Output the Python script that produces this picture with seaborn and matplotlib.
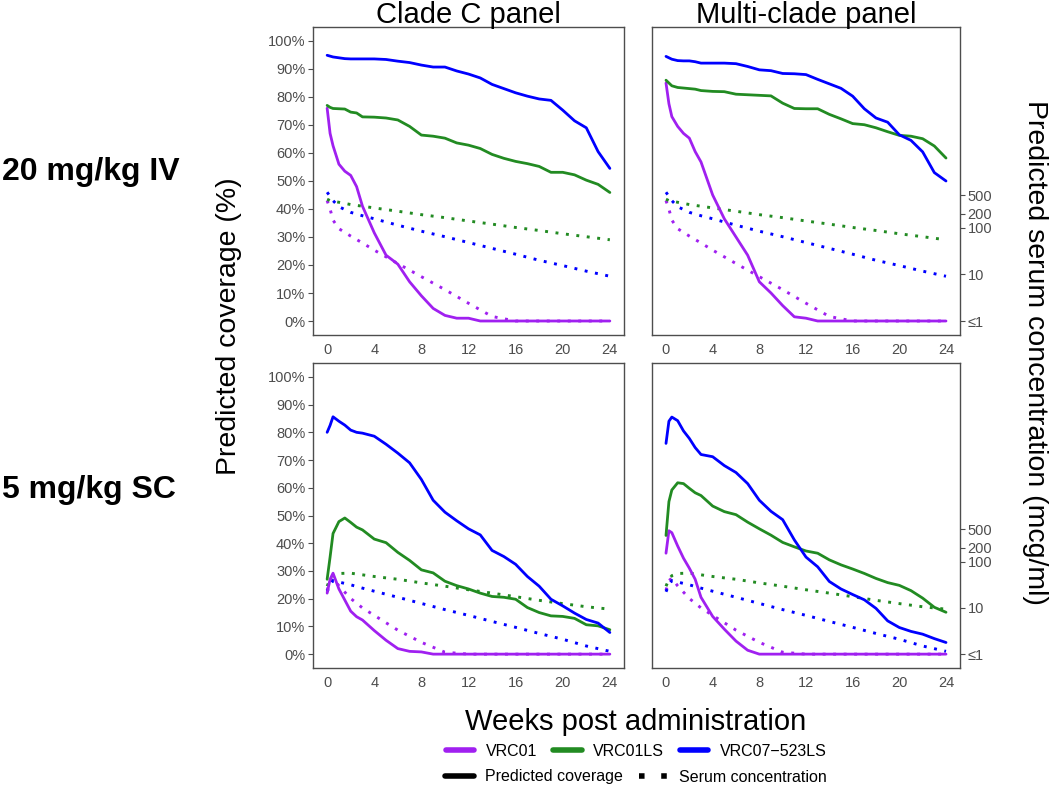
import numpy as np
import pandas as pd
import matplotlib
matplotlib.use("Agg")
import matplotlib.pyplot as plt
from matplotlib.lines import Line2D
from matplotlib.ticker import NullLocator
import seaborn as sns

# ------------------------
# data
# ------------------------
antibodies = ["VRC01", "VRC01LS", "VRC07\u2212523LS"]
colors = ["#A020F0", "#228B22", "#0000FF"]
panels = ["Clade C panel", "Multi-clade panel"]
doses = ["20 mg/kg IV", "5 mg/kg SC"]

# predicted coverage (%), solid lines
weeks_cov = [0, 0.25, 0.5, 1, 1.5, 2, 2.5, 3, 4, 5, 6, 7, 8, 9, 10, 11, 12,
             13, 14, 15, 16, 17, 18, 19, 20, 21, 22, 23, 24]

cladec_iv_vrc01 = [76, 67, 62.6, 56, 53.5, 52, 48, 41, 31.5, 23.5, 20.3, 14, 9, 4.5, 2,
                   1, 1, 0, 0, 0, 0, 0, 0, 0, 0, 0, 0, 0, 0]
cladec_iv_vrc01ls = [77, 76.3, 75.9, 75.8, 75.7, 74.6, 74.3, 72.9, 72.8, 72.5, 71.8, 69.5,
                     66.4, 66, 65.3, 63.6, 62.8, 61.6, 59.5, 58.1, 57, 56.2, 55.2, 53.1,
                     53.1, 52.2, 50.3, 48.8, 45.9]
cladec_iv_vrc07 = [94.9, 94.6, 94.3, 94, 93.7, 93.6, 93.6, 93.6, 93.6, 93.4, 92.8, 92.3,
                   91.4, 90.7, 90.7, 89.3, 88.2, 86.8, 84.5, 83, 81.5, 80.3, 79.3, 78.8,
                   75.3, 71.5, 69, 60.5, 54.5]

multi_iv_vrc01 = [85, 77.6, 73, 69.5, 67, 65.3, 60.5, 56.8, 45, 36.5, 30, 23.5, 14, 10,
                  5.5, 1.5, 1, 0, 0, 0, 0, 0, 0, 0, 0, 0, 0, 0, 0]
multi_iv_vrc01ls = [86, 85, 84, 83.4, 83.2, 83, 82.8, 82.3, 82, 81.9, 81, 80.8, 80.6,
                    80.4, 77.8, 75.9, 75.8, 75.8, 73.8, 72.2, 70.5, 70.1, 69, 67.6, 66.3,
                    66, 65.1, 62.5, 58.2]
multi_iv_vrc07 = [94.5, 94, 93.5, 93, 92.9, 92.9, 92.6, 92.1, 92.1, 92.1, 91.9, 90.9,
                  89.7, 89.4, 88.4, 88.3, 88, 86.3, 84.7, 83.1, 80.3, 75.8, 72.5, 71,
                  66.5, 64.5, 60.4, 53, 50]

cladec_sc_vrc01 = [22, 27, 29.2, 23.5, 19.5, 15.5, 13.5, 12.3, 8.5, 5, 2, 1, 0.8, 0, 0,
                   0, 0, 0, 0, 0, 0, 0, 0, 0, 0, 0, 0, 0, 0]
cladec_sc_vrc01ls = [27, 35, 43.5, 47.8, 49.1, 47.5, 45.8, 44.8, 41.5, 40.2, 36.7, 33.8,
                     30.4, 29.3, 26.3, 24.7, 23.5, 22, 20.8, 20.5, 19.8, 16.8, 15, 13.8,
                     13.6, 12.9, 10.6, 10.2, 8.8]
cladec_sc_vrc07 = [80, 82.5, 85.6, 84, 82.6, 80.8, 80, 79.7, 78.6, 75.7, 72.5, 69, 63,
                   55.5, 51.2, 48.1, 45.2, 43, 37.4, 35.2, 32.4, 28, 24.5, 19.8, 17.4,
                   14.8, 12.5, 11.2, 7.8]

multi_sc_vrc01 = [36.4, 44.5, 43.8, 39, 34.6, 31, 27, 20.5, 13.6, 9, 4.7, 1.4, 0, 0, 0,
                  0, 0, 0, 0, 0, 0, 0, 0, 0, 0, 0, 0, 0, 0]
multi_sc_vrc01ls = [42.8, 55, 59.2, 61.8, 61.5, 59.8, 58.2, 57.2, 53.4, 51.4, 50.3, 47.6,
                    45.2, 42.9, 40.3, 38.7, 37.2, 36.4, 34, 32.2, 30.7, 29.1, 27.3, 25.8,
                    24.8, 22.9, 20.2, 16.9, 15.1]
multi_sc_vrc07 = [76, 84, 85.5, 84.2, 80.5, 77.8, 74.5, 72, 71.2, 68, 65.5, 61.5, 55.5,
                  51.5, 48.5, 41.2, 35, 31.5, 26.2, 23.5, 21.5, 19.6, 16.5, 12, 9.6, 8.2,
                  7.2, 5.6, 4.2]

# predicted serum concentration (mcg/ml), dotted lines; values <= 1 shown as 1
weeks_conc = [0, 0.25, 0.5, 1, 2, 3, 4, 6, 8, 10, 12, 14, 16, 18, 20, 22, 24]

conc_iv_vrc01 = [380, 251, 145, 95, 66, 47, 33, 17, 8.9, 4.7, 2.4, 1.25, 1, 1, 1, 1, 1]
conc_iv_vrc01ls = [407, 380, 370, 350, 313, 288, 265, 225, 190, 164, 139, 119, 101, 87,
                   74, 64, 55]
conc_iv_vrc07 = [575, 468, 380, 281, 213, 180, 155, 113, 84, 64, 48, 36, 27, 20, 15.4,
                 11.7, 9.1]

conc_sc_vrc01 = [24, 39, 44, 30, 16, 10, 6.9, 3.3, 1.8, 1.1, 1, 1, 1, 1, 1, 1, 1]
conc_sc_vrc01ls = [29.5, 41.7, 49.9, 55.7, 56.5, 52, 47.9, 41.7, 34.8, 29.5, 24.7, 20.9,
                   17.5, 14.6, 12.4, 10.6, 9.4]
conc_sc_vrc07 = [22.4, 31.6, 38.9, 36.3, 31.6, 26.8, 23, 17, 12.5, 9.2, 6.9, 5.1, 3.8,
                 2.8, 2.1, 1.5, 1.15]

coverage = {
    (0, 0): [cladec_iv_vrc01, cladec_iv_vrc01ls, cladec_iv_vrc07],
    (0, 1): [multi_iv_vrc01, multi_iv_vrc01ls, multi_iv_vrc07],
    (1, 0): [cladec_sc_vrc01, cladec_sc_vrc01ls, cladec_sc_vrc07],
    (1, 1): [multi_sc_vrc01, multi_sc_vrc01ls, multi_sc_vrc07],
}
concentration = {
    0: [conc_iv_vrc01, conc_iv_vrc01ls, conc_iv_vrc07],
    1: [conc_sc_vrc01, conc_sc_vrc01ls, conc_sc_vrc07],
}


def long_df(weeks, series, name):
    rows = []
    for ab, vals in zip(antibodies, series):
        for w, v in zip(weeks, vals):
            rows.append({"week": w, name: v, "antibody": ab})
    return pd.DataFrame(rows)


# ------------------------
# figure
# ------------------------
sns.set_style("white")
plt.rcParams["font.family"] = ["Liberation Sans", "DejaVu Sans"]
plt.rcParams["text.color"] = "black"

W, H = 1050, 787
fig = plt.figure(figsize=(W / 100, H / 100), dpi=100)

pal = dict(zip(antibodies, colors))
dotted = (0, (1, 2.6))
frame_col = "#4D4D4D"
tick_col = "#4D4D4D"

# pixel boxes: (left, right, top, bottom)
col_x = [(313, 624), (652, 960)]
row_y = [(27, 335), (363, 668)]

for r in range(2):
    for c in range(2):
        x0, x1 = col_x[c]
        y0, y1 = row_y[r]
        ax = fig.add_axes([x0 / W, 1 - y1 / H, (x1 - x0) / W, (y1 - y0) / H])
        ax2 = ax.twinx()

        # serum concentration on the log-scaled secondary axis
        ax2.set_yscale("log")
        sns.lineplot(data=long_df(weeks_conc, concentration[r], "conc"), x="week", y="conc",
                     hue="antibody", palette=pal, hue_order=antibodies, ax=ax2,
                     legend=False, errorbar=None, linewidth=2.1, linestyle=dotted)
        ax2.set_ylim(10 ** -0.3, 10 ** 6.3)

        sns.lineplot(data=long_df(weeks_cov, coverage[(r, c)], "cov"), x="week", y="cov",
                     hue="antibody", palette=pal, hue_order=antibodies, ax=ax,
                     legend=False, errorbar=None, linewidth=2.0)

        ax.set_zorder(ax2.get_zorder() + 1)
        ax.patch.set_visible(False)

        ax.set_xlim(-1.2, 25.2)
        ax.set_ylim(-5, 105)
        ax.set_xticks(range(0, 25, 4))
        ax.set_yticks(range(0, 101, 10))
        ax.set_yticklabels([f"{v}%" for v in range(0, 101, 10)])
        ax.set_xlabel("")
        ax.set_ylabel("")
        ax2.set_ylabel("")

        for sp in ax.spines.values():
            sp.set_color(frame_col)
            sp.set_linewidth(1.0)
        for sp in ax2.spines.values():
            sp.set_visible(False)

        ax.tick_params(axis="both", direction="out", length=3.5, width=0.8,
                       color=frame_col, labelcolor=tick_col, labelsize=10.5, pad=2)
        ax2.yaxis.set_minor_locator(NullLocator())
        if c == 0:
            ax2.set_yticks([])
        else:
            ax.tick_params(axis="y", left=False, labelleft=False)
            ax2.set_yticks([1, 10, 100, 200, 500])
            ax2.set_yticklabels(["\u22641", "10", "100", "200", "500"])
            ax2.tick_params(axis="y", direction="out", length=3.5, width=0.8,
                            color=frame_col, labelcolor=tick_col, labelsize=10.5, pad=2)

# column titles
for c, title in enumerate(panels):
    xc = (col_x[c][0] + col_x[c][1]) / 2 / W
    fig.text(xc, 1 - 23 / H, title, ha="center", va="baseline", fontsize=21, color="black")

# row labels
fig.text(2 / W, 1 - 180 / H, doses[0], ha="left", va="baseline", fontsize=23,
         fontweight="bold", color="black")
fig.text(2 / W, 1 - 498 / H, doses[1], ha="left", va="baseline", fontsize=23,
         fontweight="bold", color="black")

# axis titles
fig.text(229 / W, 1 - 326 / H, "Predicted coverage (%)", rotation=90, ha="center",
         va="center", fontsize=20.5, color="black")
fig.text(1035 / W, 1 - 352 / H, "Predicted serum concentration (mcg/ml)", rotation=270,
         ha="center", va="center", fontsize=20.5, color="black")
fig.text(636 / W, 1 - 722 / H, "Weeks post administration", ha="center", va="center",
         fontsize=21, color="black")

# legends
ab_handles = [Line2D([], [], color=col, lw=4) for col in colors]
fig.legend(ab_handles, antibodies, loc="center", bbox_to_anchor=(636 / W, 1 - 751 / H),
           ncol=3, frameon=False, fontsize=11.5, handlelength=1.8, handletextpad=0.7,
           columnspacing=1.0, borderpad=0, borderaxespad=0, labelcolor="black")
type_handles = [Line2D([], [], color="black", lw=4),
                Line2D([], [], color="black", lw=4, linestyle=(0, (1, 3)))]
fig.legend(type_handles, ["Predicted coverage", "Serum concentration"], loc="center",
           bbox_to_anchor=(636 / W, 1 - 777 / H), ncol=2, frameon=False, fontsize=11.5,
           handlelength=1.8, handletextpad=0.7, columnspacing=1.0, borderpad=0,
           borderaxespad=0, labelcolor="black")

fig.savefig("out.png", dpi=100, facecolor="white")
